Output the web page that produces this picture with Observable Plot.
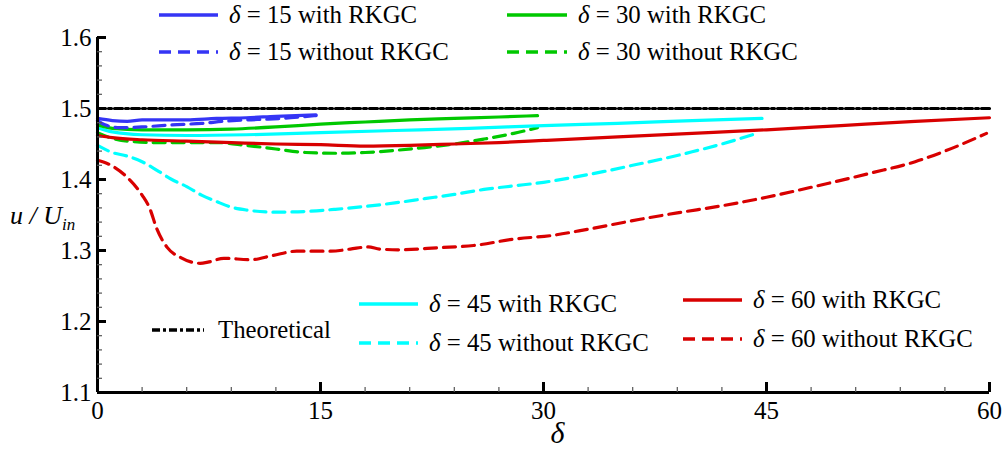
<!DOCTYPE html>
<html><head><meta charset="utf-8">
<script src="https://cdn.jsdelivr.net/npm/d3@7"></script>
<script src="https://cdn.jsdelivr.net/npm/@observablehq/plot@0.6"></script>
<style>
body{margin:0;background:#fff;}
#wrap{position:relative;width:1008px;height:449px;font-family:"Liberation Serif","Times New Roman",serif;color:#000;overflow:hidden;}
#wrap svg.plot{position:absolute;left:0;top:0;}
.leg{position:absolute;display:flex;align-items:center;font-size:24.8px;white-space:nowrap;line-height:1;}
.leg svg{display:block;}
.ylab{position:absolute;left:10px;top:203px;font-size:26px;font-style:italic;white-space:nowrap;line-height:1;}
.ylab sub{font-size:17px;vertical-align:-6px;}
</style></head><body><div id="wrap"></div>
<script>
// ---- data ----
const xMajor = [0, 15, 30, 45, 60];
const xMinor = [3, 6, 9, 12, 18, 21, 24, 27, 33, 36, 39, 42, 48, 51, 54, 57];
const yMajor = [1.1, 1.2, 1.3, 1.4, 1.5, 1.6];
const yMinor = [1.12, 1.14, 1.16, 1.18, 1.22, 1.24, 1.26, 1.28, 1.32, 1.34, 1.36, 1.38, 1.42, 1.44, 1.46, 1.48, 1.52, 1.54, 1.56, 1.58];
const xTitle = ["δ"];

const theoX = [0, 60];
const theoY = [1.5, 1.5];

const s15wX = [0, 1, 2, 3, 4, 6, 8, 10, 12, 14.7];
const s15wY = [1.486, 1.483, 1.482, 1.484, 1.484, 1.484, 1.486, 1.487, 1.489, 1.491];
const s15woX = [0, 0.5, 1.5, 3, 5, 7, 8.5, 10, 11.5, 13, 14.7];
const s15woY = [1.483, 1.477, 1.473, 1.474, 1.477, 1.479, 1.482, 1.484, 1.485, 1.487, 1.490];

const s30wX = [0, 1, 3, 6, 9, 12, 15, 18, 21, 24, 27, 29.6];
const s30wY = [1.477, 1.472, 1.470, 1.470, 1.471, 1.474, 1.478, 1.481, 1.484, 1.486, 1.488, 1.490];
const s30woX = [0, 1, 2, 4, 6, 8, 10, 12, 14, 16, 18, 20, 22, 24, 26, 28, 29.6];
const s30woY = [1.466, 1.458, 1.454, 1.452, 1.452, 1.452, 1.448, 1.443, 1.438, 1.437, 1.438, 1.441, 1.445, 1.450, 1.457, 1.465, 1.473];

const s45wX = [0, 1, 3, 6, 10, 15, 20, 25, 30, 35, 40, 44.7];
const s45wY = [1.473, 1.467, 1.463, 1.462, 1.463, 1.466, 1.469, 1.472, 1.476, 1.479, 1.483, 1.486];
const s45woX = [0, 1, 2, 3, 4, 5, 6, 7, 8, 9, 10, 12, 14, 16, 18, 20, 22, 24, 26, 28, 30, 32, 34, 36, 38, 40, 42, 44.5];
const s45woY = [1.448, 1.438, 1.433, 1.425, 1.413, 1.400, 1.390, 1.378, 1.369, 1.361, 1.357, 1.354, 1.355, 1.358, 1.362, 1.367, 1.373, 1.379, 1.386, 1.391, 1.396, 1.403, 1.411, 1.420, 1.429, 1.439, 1.450, 1.466];

const s60wX = [0, 1, 3, 6, 9, 12, 15, 18, 21, 24, 27, 30, 35, 40, 45, 50, 55, 60];
const s60wY = [1.462, 1.459, 1.456, 1.454, 1.452, 1.450, 1.449, 1.447, 1.448, 1.450, 1.452, 1.455, 1.460, 1.465, 1.470, 1.476, 1.482, 1.487];
const s60woX = [0, 1, 2, 3, 3.5, 4, 4.7, 5.6, 6.9, 7.5, 8.5, 10.3, 11.8, 13.4, 15.7, 17, 18.2, 19, 20.2, 23, 25.3, 28, 30.5, 33, 36.5, 39, 42, 45, 48, 52, 55, 57, 59.8];
const s60woY = [1.427, 1.419, 1.403, 1.378, 1.360, 1.330, 1.304, 1.290, 1.282, 1.284, 1.289, 1.287, 1.293, 1.299, 1.299, 1.302, 1.305, 1.302, 1.301, 1.304, 1.307, 1.316, 1.321, 1.330, 1.344, 1.353, 1.363, 1.375, 1.389, 1.409, 1.425, 1.440, 1.465];

// ---- styling ----
const BLUE = "#3535f5", GREEN = "#00c800", CYAN = "#00ffff", RED = "#d80000";
const DASH = "12,7", DASHDOT = "8,3,3,3";

const series = [
  {x: s60woX, y: s60woY, color: RED, dash: DASH},
  {x: s45woX, y: s45woY, color: CYAN, dash: DASH},
  {x: s30woX, y: s30woY, color: GREEN, dash: DASH},
  {x: s60wX, y: s60wY, color: RED, dash: null},
  {x: s45wX, y: s45wY, color: CYAN, dash: null},
  {x: s30wX, y: s30wY, color: GREEN, dash: null},
  {x: s15woX, y: s15woY, color: BLUE, dash: DASH},
  {x: s15wX, y: s15wY, color: BLUE, dash: null},
  {x: theoX, y: theoY, color: "#000", dash: DASHDOT}
];

const toRows = s => s.x.map((x, i) => ({x, y: s.y[i]}));

const chart = Plot.plot({
  width: 1008, height: 449,
  marginLeft: 97, marginRight: 19, marginTop: 37, marginBottom: 57,
  x: {domain: [0, 60]},
  y: {domain: [1.1, 1.6]},
  style: {fontFamily: '"Liberation Serif","Times New Roman",serif', fontSize: "25px", background: "transparent", overflow: "visible"},
  marks: [
    ...series.map(s => Plot.line(toRows(s), {x: "x", y: "y", stroke: s.color, strokeWidth: 3.2, strokeDasharray: s.dash, curve: "monotone-x"})),
    Plot.ruleX([0], {strokeWidth: 3}),
    Plot.ruleY([1.1], {strokeWidth: 3}),
    Plot.axisX({ticks: xMajor, tickSize: -10, strokeWidth: 3, fill: "none", label: null}),
    Plot.axisX({ticks: xMinor, tickSize: -5, strokeWidth: 1.2, stroke: "#555", fill: "none", label: null}),
    Plot.axisX({ticks: xMajor, tickSize: 0, tickPadding: 9, label: null, fontSize: 25}),
    Plot.axisY({ticks: yMajor, tickSize: -9, strokeWidth: 3, fill: "none", label: null}),
    Plot.axisY({ticks: yMinor, tickSize: -5, strokeWidth: 1.2, stroke: "#555", fill: "none", label: null}),
    Plot.axisY({ticks: yMajor, tickSize: 0, tickPadding: 6, tickFormat: d => d.toFixed(1), label: null, fontSize: 25}),
    Plot.text(xTitle, {frameAnchor: "bottom", text: d => d, dx: 14, dy: 41, fontSize: 30, fontStyle: "italic", lineAnchor: "middle"})
  ]
});
chart.classList.add("plot");
const wrap = document.getElementById("wrap");
wrap.appendChild(chart);

// ---- legends (HTML overlay) ----
const legends = [
  {left: 159, cy: 15, len: 59, color: BLUE, dash: null, html: "<i>&delta;</i> = 15 with RKGC"},
  {left: 159, cy: 52, len: 59, color: BLUE, dash: DASH, html: "<i>&delta;</i> = 15 without RKGC"},
  {left: 507, cy: 15, len: 60, color: GREEN, dash: null, html: "<i>&delta;</i> = 30 with RKGC"},
  {left: 507, cy: 52, len: 60, color: GREEN, dash: DASH, html: "<i>&delta;</i> = 30 without RKGC"},
  {left: 152, cy: 330, len: 52, color: "#000", dash: DASHDOT, html: "Theoretical", gap: 14},
  {left: 359, cy: 304, len: 59, color: CYAN, dash: null, html: "<i>&delta;</i> = 45 with RKGC"},
  {left: 359, cy: 343, len: 59, color: CYAN, dash: DASH, html: "<i>&delta;</i> = 45 without RKGC"},
  {left: 683, cy: 300, len: 59, color: RED, dash: null, html: "<i>&delta;</i> = 60 with RKGC"},
  {left: 683, cy: 339, len: 59, color: RED, dash: DASH, html: "<i>&delta;</i> = 60 without RKGC"}
];
for (const l of legends) {
  const d = document.createElement("div");
  d.className = "leg";
  d.style.left = l.left + "px";
  d.style.top = (l.cy - 15) + "px";
  d.style.height = "30px";
  d.innerHTML = `<svg width="${l.len}" height="6"><line x1="0" y1="3" x2="${l.len}" y2="3" stroke="${l.color}" stroke-width="3.5" ${l.dash ? `stroke-dasharray="${l.dash}"` : ""}/></svg><span style="margin-left:${l.gap || 11}px">${l.html}</span>`;
  wrap.appendChild(d);
}
const yl = document.createElement("div");
yl.className = "ylab";
yl.innerHTML = "u / U<sub>in</sub>";
wrap.appendChild(yl);
</script></body></html>
